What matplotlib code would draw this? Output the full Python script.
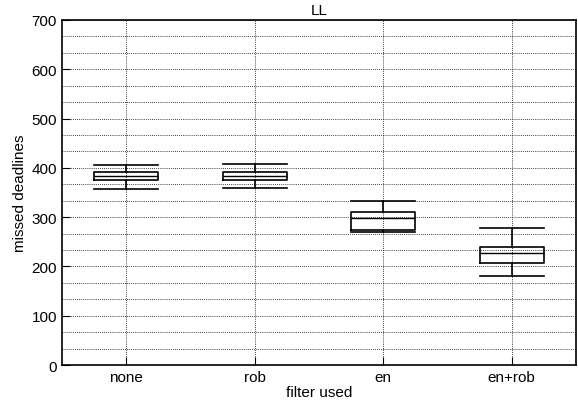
import matplotlib
matplotlib.use("Agg")
import matplotlib.pyplot as plt
from matplotlib.ticker import MultipleLocator

plt.rcParams['font.family'] = ['Liberation Sans', 'DejaVu Sans']

filters = ["none", "rob", "en", "en+rob"]
whisker_lo = [358, 360, 270, 181]
box_lo = [376, 376, 275, 208]
medians = [384, 384, 299, 227]
box_hi = [391, 391, 311, 239]
whisker_hi = [405, 407, 332, 278]

stats = []
for i, name in enumerate(filters):
    stats.append({"label": name, "whislo": whisker_lo[i], "q1": box_lo[i],
                  "med": medians[i], "q3": box_hi[i], "whishi": whisker_hi[i],
                  "fliers": []})

fig = plt.figure(figsize=(5.78, 4.10), dpi=100)
ax = fig.add_axes([0.107, 0.107, 0.8895, 0.842])

line = dict(color="black", linewidth=1.2)
ax.bxp(stats, positions=[1, 2, 3, 4], widths=0.5, showfliers=False,
       boxprops=line, whiskerprops=line, capprops=line,
       medianprops=dict(color="black", linewidth=1.0), capwidths=0.5)

ax.set_xlim(0.5, 4.5)
ax.set_ylim(0, 700)
ax.yaxis.set_major_locator(MultipleLocator(100))
ax.yaxis.set_minor_locator(MultipleLocator(100 / 3))
ax.grid(True, which="both", axis="y", linestyle=(0, (1, 1.5)), color="black", linewidth=0.6)
ax.grid(True, which="major", axis="x", linestyle=(0, (1, 1.5)), color="black", linewidth=0.6)
ax.set_axisbelow(True)
ax.tick_params(direction="in", which="both", labelsize=11)
ax.tick_params(which="minor", length=0)
ax.tick_params(axis="y", which="major", length=6)
ax.tick_params(axis="x", length=6)

for s in ax.spines.values():
    s.set_linewidth(1.2)

ax.set_title("LL", fontsize=11, pad=4)
ax.set_xlabel("filter used", fontsize=11, labelpad=1)
ax.set_ylabel("missed deadlines", fontsize=11, labelpad=3)

fig.savefig("out.png", dpi=100)
